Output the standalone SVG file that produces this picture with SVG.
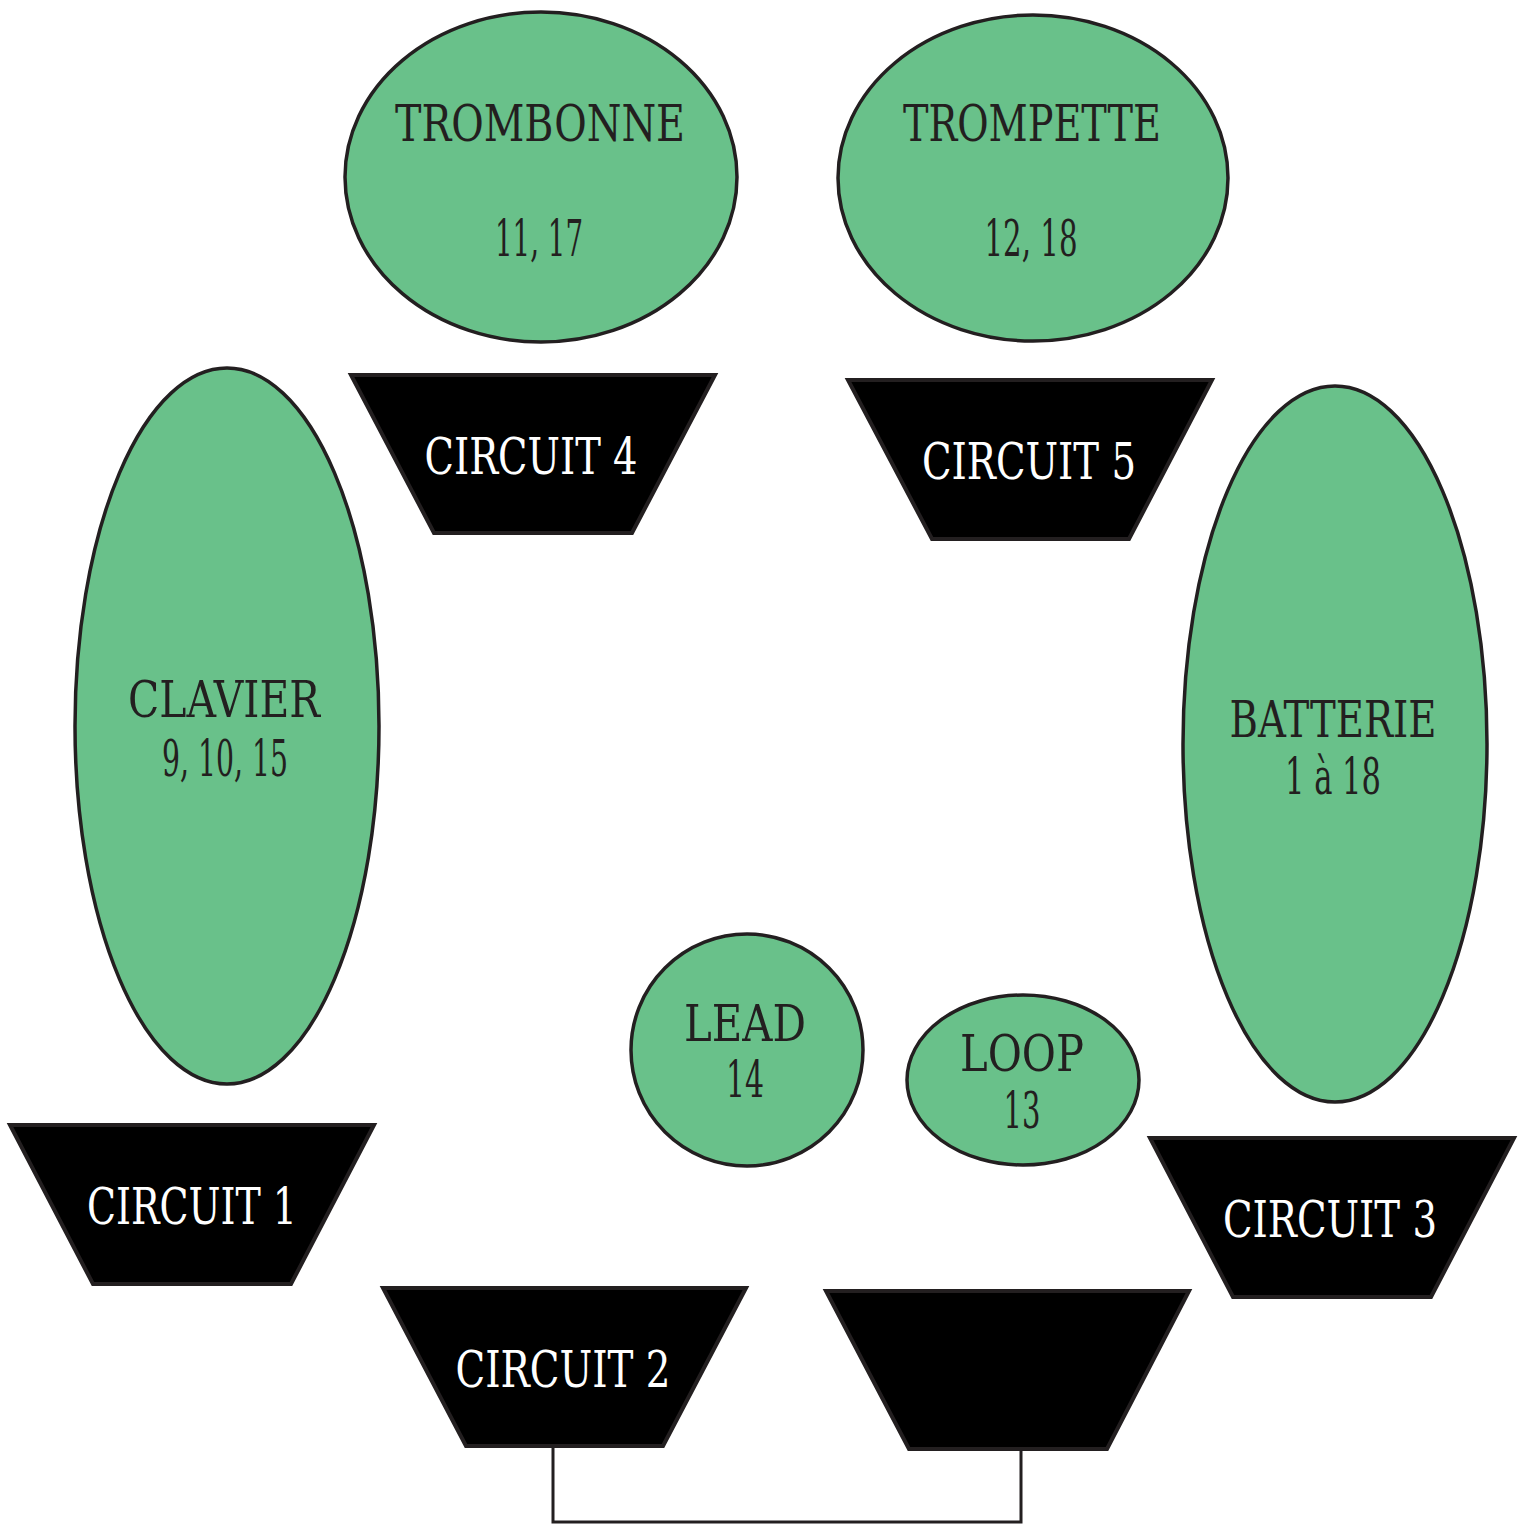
<svg xmlns="http://www.w3.org/2000/svg" width="1521" height="1524" viewBox="0 0 1521 1524">
<style>
.n{fill:#69c18a;stroke:#231f20;stroke-width:3.5}
.c{fill:#000;stroke:#231f20;stroke-width:4}
.t{font-family:"DejaVu Serif Condensed","DejaVu Serif","Liberation Serif",serif;font-size:51px;text-anchor:middle;fill:#231f20}
.w{fill:#fff}
.e{fill:none;stroke:#231f20;stroke-width:3}
</style>
<rect width="1521" height="1524" fill="#fff"/>
<g id="connectors">
<path class="e" d="M553,1446 V1522 H1021 V1449"/>
</g>
<g id="trombonne">
<ellipse class="n" cx="541" cy="177" rx="196" ry="165"/>
<text class="t" x="540" y="141" textLength="290" lengthAdjust="spacingAndGlyphs">TROMBONNE</text>
<text class="t" x="539" y="256" textLength="88" lengthAdjust="spacingAndGlyphs">11, 17</text>
</g>
<g id="trompette">
<ellipse class="n" cx="1033" cy="178" rx="195" ry="163"/>
<text class="t" x="1032" y="141" textLength="258" lengthAdjust="spacingAndGlyphs">TROMPETTE</text>
<text class="t" x="1031" y="256" textLength="93" lengthAdjust="spacingAndGlyphs">12, 18</text>
</g>
<g id="clavier">
<ellipse class="n" cx="227" cy="726" rx="152" ry="358"/>
<text class="t" x="224" y="717" textLength="192" lengthAdjust="spacingAndGlyphs">CLAVIER</text>
<text class="t" x="225" y="776" textLength="126" lengthAdjust="spacingAndGlyphs">9, 10, 15</text>
</g>
<g id="batterie">
<ellipse class="n" cx="1335" cy="744" rx="152" ry="358"/>
<text class="t" x="1333" y="737" textLength="207" lengthAdjust="spacingAndGlyphs">BATTERIE</text>
<text class="t" x="1333" y="794" textLength="96" lengthAdjust="spacingAndGlyphs">1 à 18</text>
</g>
<g id="lead">
<ellipse class="n" cx="747" cy="1050" rx="116" ry="116"/>
<text class="t" x="745" y="1041" textLength="122" lengthAdjust="spacingAndGlyphs">LEAD</text>
<text class="t" x="745" y="1097" textLength="38" lengthAdjust="spacingAndGlyphs">14</text>
</g>
<g id="loop">
<ellipse class="n" cx="1023" cy="1080" rx="116" ry="85"/>
<text class="t" x="1022" y="1071" textLength="124" lengthAdjust="spacingAndGlyphs">LOOP</text>
<text class="t" x="1022" y="1128" textLength="37" lengthAdjust="spacingAndGlyphs">13</text>
</g>
<g id="circuit4">
<polygon class="c" points="351,375 715,375 632,533 434,533"/>
<text class="t w" x="531" y="474" textLength="213" lengthAdjust="spacingAndGlyphs">CIRCUIT 4</text>
</g>
<g id="circuit5">
<polygon class="c" points="848,380 1212,380 1129,539 932,539"/>
<text class="t w" x="1029" y="479" textLength="214" lengthAdjust="spacingAndGlyphs">CIRCUIT 5</text>
</g>
<g id="circuit1">
<polygon class="c" points="10,1125 374,1125 291,1284 93,1284"/>
<text class="t w" x="192" y="1224" textLength="210" lengthAdjust="spacingAndGlyphs">CIRCUIT 1</text>
</g>
<g id="circuit3">
<polygon class="c" points="1150,1138 1514,1138 1431,1297 1233,1297"/>
<text class="t w" x="1330" y="1237" textLength="214" lengthAdjust="spacingAndGlyphs">CIRCUIT 3</text>
</g>
<g id="circuit2">
<polygon class="c" points="383,1288 746,1288 663,1446 466,1446"/>
<text class="t w" x="563" y="1387" textLength="215" lengthAdjust="spacingAndGlyphs">CIRCUIT 2</text>
</g>
<g id="blank">
<polygon class="c" points="826,1291 1189,1291 1107,1449 909,1449"/>
</g>
</svg>
